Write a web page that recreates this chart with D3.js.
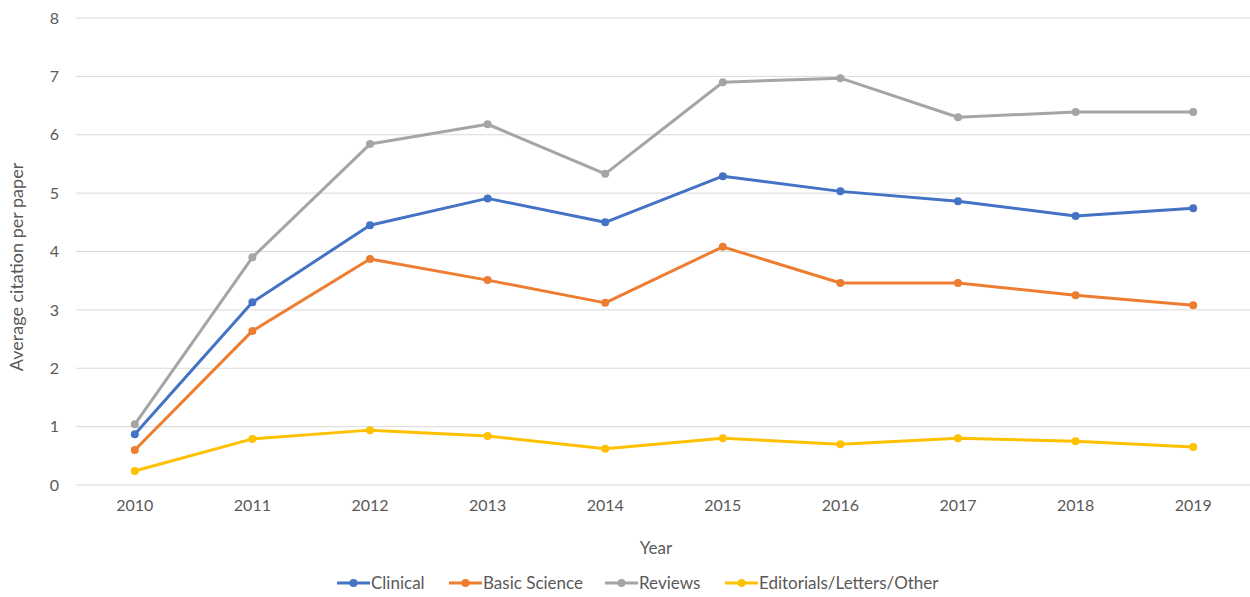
<!DOCTYPE html>
<html>
<head>
<meta charset="utf-8">
<script src="https://cdn.jsdelivr.net/npm/d3@7"></script>
<style>
  body { margin: 0; background: #fff; }
  text { font-family: Lato, "Open Sans", sans-serif; fill: #595959; }
</style>
</head>
<body>
<svg id="chart" width="1250" height="597"></svg>
<script>
var years = ["2010", "2011", "2012", "2013", "2014", "2015", "2016", "2017", "2018", "2019"];
var clinical = [0.87, 3.13, 4.45, 4.91, 4.50, 5.29, 5.03, 4.86, 4.61, 4.74];
var basicScience = [0.60, 2.64, 3.87, 3.51, 3.12, 4.08, 3.46, 3.46, 3.25, 3.08];
var reviews = [1.04, 3.90, 5.84, 6.18, 5.33, 6.90, 6.97, 6.30, 6.39, 6.39];
var editorials = [0.24, 0.79, 0.94, 0.84, 0.62, 0.80, 0.70, 0.80, 0.75, 0.65];
var yTicks = [0, 1, 2, 3, 4, 5, 6, 7, 8];

var series = [
    { name: "Clinical", values: clinical, color: "#4472C4" },
    { name: "Basic Science", values: basicScience, color: "#ED7D31" },
    { name: "Reviews", values: reviews, color: "#A5A5A5" },
    { name: "Editorials/Letters/Other", values: editorials, color: "#FFC000" }
];

var svg = d3.select("#chart");
var plotLeft = 76, plotRight = 1252, plotTop = 18, plotBottom = 485;

var x = d3.scaleBand().domain(years).range([plotLeft, plotRight]);
var y = d3.scaleLinear().domain([0, 8]).range([plotBottom, plotTop]);

// gridlines
svg.append("g")
    .selectAll("line")
    .data(yTicks)
    .join("line")
    .attr("x1", plotLeft).attr("x2", plotRight)
    .attr("y1", d => y(d)).attr("y2", d => y(d))
    .attr("stroke", "#d9d9d9")
    .attr("stroke-width", 1);

// y axis labels
var yAxis = svg.append("g")
    .attr("transform", "translate(" + (plotLeft - 17) + ",0)")
    .call(d3.axisLeft(y).tickValues(yTicks).tickSize(0).tickPadding(0));
yAxis.select(".domain").remove();
yAxis.selectAll("text").style("font-size", "16px").attr("fill", "#595959").style("font-family", "Lato, 'Open Sans', sans-serif");

// x axis labels
var xAxis = svg.append("g")
    .attr("transform", "translate(0," + (plotBottom + 15) + ")")
    .call(d3.axisBottom(x).tickSize(0).tickPadding(0));
xAxis.select(".domain").remove();
xAxis.selectAll("text").style("font-size", "16px").attr("fill", "#595959").style("font-family", "Lato, 'Open Sans', sans-serif");

// axis titles
svg.append("text")
    .attr("x", 656).attr("y", 554)
    .attr("text-anchor", "middle")
    .style("font-size", "17px")
    .text("Year");

svg.append("text")
    .attr("transform", "translate(23,267) rotate(-90)")
    .attr("text-anchor", "middle")
    .style("font-size", "18px")
    .text("Average citation per paper");

// lines
var line = d3.line()
    .x((d, i) => x(years[i]) + x.bandwidth() / 2)
    .y(d => y(d));

series.forEach(function (s) {
    svg.append("path")
        .datum(s.values)
        .attr("d", line)
        .attr("fill", "none")
        .attr("stroke", s.color)
        .attr("stroke-width", 3)
        .attr("stroke-linejoin", "round");

    svg.append("g")
        .selectAll("circle")
        .data(s.values)
        .join("circle")
        .attr("cx", (d, i) => x(years[i]) + x.bandwidth() / 2)
        .attr("cy", d => y(d))
        .attr("r", 4)
        .attr("fill", s.color);
});

// legend
var legendX = [337, 449, 605, 725];
var legend = svg.append("g");
series.forEach(function (s, i) {
    var g = legend.append("g").attr("transform", "translate(" + legendX[i] + ",583)");
    g.append("line").attr("x1", 0).attr("x2", 33).attr("y1", 0).attr("y2", 0)
        .attr("stroke", s.color).attr("stroke-width", 3);
    g.append("circle").attr("cx", 16.5).attr("cy", 0).attr("r", 4).attr("fill", s.color);
    g.append("text").attr("x", 34).attr("y", 6)
        .style("font-size", "17px")
        .text(s.name);
});
</script>
</body>
</html>
